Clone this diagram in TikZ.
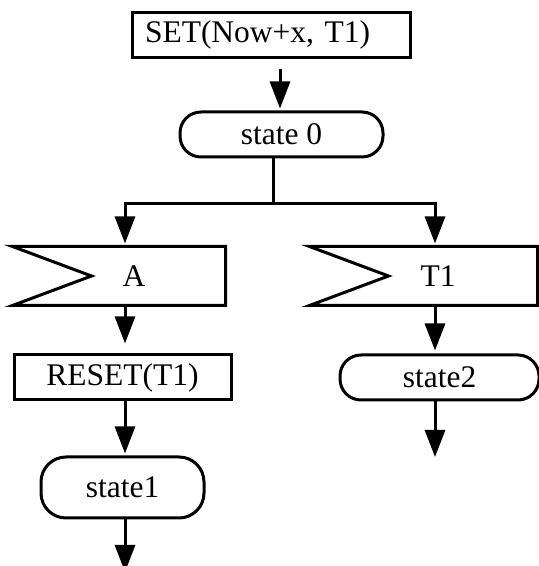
\documentclass[tikz,border=0pt]{standalone}
\usepackage{fontspec}
\setmainfont{Liberation Serif}
\usetikzlibrary{arrows.meta}

\begin{document}
\begin{tikzpicture}[x=1pt,y=1pt,line width=3pt,
        every node/.style={font=\fontsize{31.5}{36}\selectfont,inner sep=0pt},
        box/.style={draw,rectangle,minimum height=45pt},
        state/.style={draw,rectangle,rounded corners=21pt,minimum height=45pt},
        sig/.style={rectangle,minimum height=56pt},
        flow/.style={-{Triangle[length=27pt,width=20pt]}}]
    \useasboundingbox (0,0) rectangle (539,566);
    \coordinate (colA) at (125,0);
    \coordinate (colT) at (435,0);
    \coordinate (top) at (280,0);
    \coordinate (split) at (273,362);
    \coordinate (outA) at (125,-6);
    \coordinate (outT) at (435,109);

    \node[box,text width=252pt,align=left,inner xsep=13pt] (set) at (271,531) {SET(Now+x, T1)};
    \node[state,minimum width=203pt] (st0) at (281.5,431.5) {state 0};
    \foreach \n/\x/\w/\s/\A in {sigA/119/210/15/A,sigT/423.5/225/14.5/T1} {
        \node[sig,minimum width=\w pt] (\n) at (\x,290) {};
        \draw (\n.north west) -- (\n.north east) -- (\n.south east) -- (\n.south west)
            -- ([xshift=79pt]\n.west) -- cycle;
        \node (txt\n) at ([xshift=\s pt]\n.center) {\A};
    }
    \node[box,minimum width=217pt] (reset) at (122.5,188.5) {RESET(T1)};
    \node[state,minimum width=163pt,minimum height=61pt,rounded corners=25pt] (st1) at (122.5,78.5) {state1};
    \node[state,minimum width=199pt] (st2) at (439.5,188.5) {state2};

    \draw[flow,shorten <=10pt,shorten >=2pt] (set.south -| top) -- (st0.north -| top);
    \draw (st0.south -| split) -- (split);
    \draw[flow,shorten >=3pt] (split) -| (sigA.north -| colA);
    \draw[flow,shorten >=3pt] (split) -| (sigT.north -| colT);
    \draw[flow,shorten >=10pt] (sigA.south -| colA) -- (reset.north -| colA);
    \draw[flow,shorten >=2pt] (reset.south -| colA) -- (st1.north -| colA);
    \draw[flow] (st1.south -| colA) -- (outA);
    \draw[flow,shorten >=3pt] (sigT.south -| colT) -- (st2.north -| colT);
    \draw[flow] (st2.south -| colT) -- (outT);
\end{tikzpicture}
\end{document}
